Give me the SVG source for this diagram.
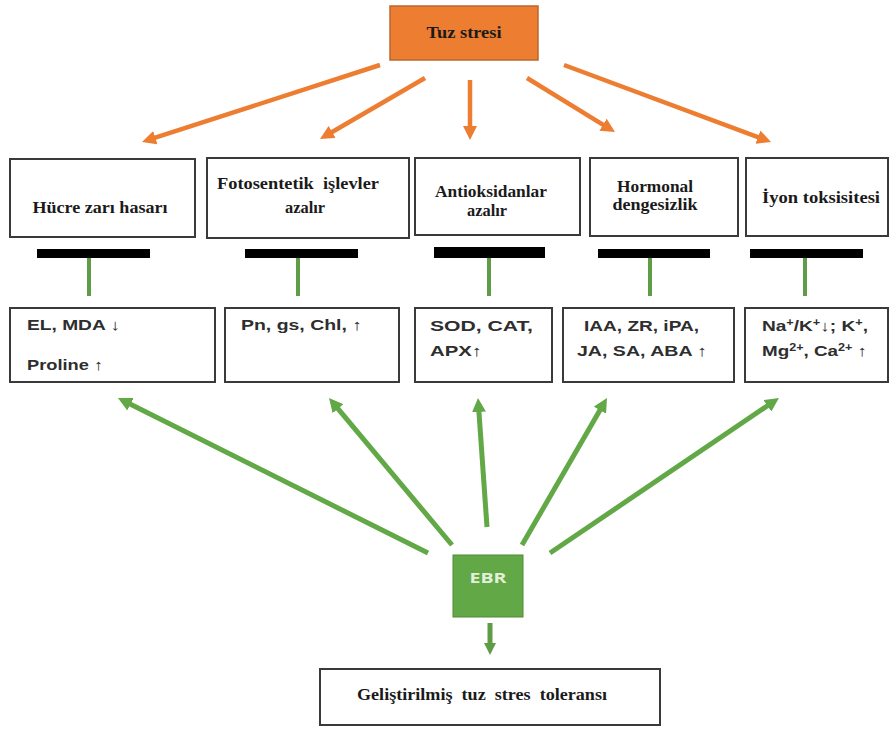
<svg xmlns="http://www.w3.org/2000/svg" width="889" height="729" viewBox="0 0 889 729">
<style>
.box{fill:#ffffff;stroke:#3a3a3a;stroke-width:2}
.ttl{font-family:"Liberation Serif","Times New Roman",serif;font-weight:bold;font-size:16px;fill:#1a1a1a;white-space:pre}
.lbl{font-family:"Liberation Sans",Arial,sans-serif;font-weight:bold;font-size:15px;fill:#2e2e2e}
.sup{font-size:10px}
.or{stroke:#ED7D31;stroke-width:4.5;fill:none}
.gr{stroke:#62A846;stroke-width:5;fill:none}
.stem{stroke:#5E9C45;stroke-width:4}
.bar{fill:#000000}
</style>
<defs>
<marker id="ao" markerUnits="userSpaceOnUse" markerWidth="14" markerHeight="14" refX="5" refY="7" orient="auto">
<path d="M0,0 L14,7 L0,14 z" fill="#ED7D31"/>
</marker>
<marker id="ag" markerUnits="userSpaceOnUse" markerWidth="14" markerHeight="14" refX="5" refY="7" orient="auto">
<path d="M0,0 L14,7 L0,14 z" fill="#62A846"/>
</marker>
<marker id="ag2" markerUnits="userSpaceOnUse" markerWidth="12" markerHeight="12" refX="4" refY="6" orient="auto">
<path d="M0,0 L12,6 L0,12 z" fill="#5E9C45"/>
</marker>
</defs>

<g id="tuz-stresi">
<rect x="390" y="6" width="148" height="54" fill="#ED7D31" stroke="#B8682E" stroke-width="1.5"/>
<text class="ttl" x="464" y="38" text-anchor="middle" font-size="17" textLength="75" lengthAdjust="spacingAndGlyphs">Tuz stresi</text>
</g>

<g id="hucre">
<rect class="box" x="10" y="159" width="185" height="78"/>
<text class="ttl" x="100" y="213" text-anchor="middle" textLength="135" lengthAdjust="spacingAndGlyphs">Hücre zarı hasarı</text>
</g>
<g id="fotosentetik">
<rect class="box" x="207" y="158" width="202" height="80"/>
<text class="ttl" x="298" y="189" text-anchor="middle" textLength="162" lengthAdjust="spacingAndGlyphs">Fotosentetik  işlevler</text>
<text class="ttl" x="305" y="213" text-anchor="middle" textLength="40" lengthAdjust="spacingAndGlyphs">azalır</text>
</g>
<g id="antioksidan">
<rect class="box" x="415" y="158" width="165" height="77"/>
<text class="ttl" x="491" y="197" text-anchor="middle" textLength="112" lengthAdjust="spacingAndGlyphs">Antioksidanlar</text>
<text class="ttl" x="487" y="216" text-anchor="middle" textLength="40" lengthAdjust="spacingAndGlyphs">azalır</text>
</g>
<g id="hormonal">
<rect class="box" x="590" y="158" width="148" height="78"/>
<text class="ttl" x="655" y="192" text-anchor="middle" textLength="76" lengthAdjust="spacingAndGlyphs">Hormonal</text>
<text class="ttl" x="655" y="210" text-anchor="middle" textLength="85" lengthAdjust="spacingAndGlyphs">dengesizlik</text>
</g>
<g id="iyon">
<rect class="box" x="746" y="158" width="142" height="78"/>
<text class="ttl" x="821" y="203" text-anchor="middle" textLength="118" lengthAdjust="spacingAndGlyphs">İyon toksisitesi</text>
</g>

<g id="inhibitors">
<rect class="bar" x="37" y="249" width="113" height="9"/>
<rect class="bar" x="245" y="249" width="113" height="9"/>
<rect class="bar" x="434" y="247" width="111" height="11"/>
<rect class="bar" x="598" y="249" width="112" height="9"/>
<rect class="bar" x="750" y="249" width="113" height="9"/>
<line class="stem" x1="89" y1="258" x2="89" y2="296"/>
<line class="stem" x1="298" y1="258" x2="298" y2="296"/>
<line class="stem" x1="489" y1="258" x2="489" y2="296"/>
<line class="stem" x1="650" y1="258" x2="650" y2="296"/>
<line class="stem" x1="805" y1="258" x2="805" y2="296"/>
</g>

<g id="b-hucre">
<rect class="box" x="10" y="308" width="205" height="74"/>
<text class="lbl" x="27" y="330" textLength="93" lengthAdjust="spacingAndGlyphs">EL, MDA ↓</text>
<text class="lbl" x="27" y="370" textLength="76" lengthAdjust="spacingAndGlyphs">Proline ↑</text>
</g>
<g id="b-foto">
<rect class="box" x="225" y="308" width="174" height="74"/>
<text class="lbl" x="241" y="330" textLength="121" lengthAdjust="spacingAndGlyphs">Pn, gs, Chl, ↑</text>
</g>
<g id="b-anti">
<rect class="box" x="415" y="308" width="137" height="74"/>
<text class="lbl" x="430" y="331" textLength="103" lengthAdjust="spacingAndGlyphs">SOD, CAT,</text>
<text class="lbl" x="430" y="356" textLength="52" lengthAdjust="spacingAndGlyphs">APX↑</text>
</g>
<g id="b-hormon">
<rect class="box" x="563" y="308" width="171" height="74"/>
<text class="lbl" x="584" y="331" textLength="115" lengthAdjust="spacingAndGlyphs">IAA, ZR, iPA,</text>
<text class="lbl" x="577" y="356" textLength="130" lengthAdjust="spacingAndGlyphs">JA, SA, ABA ↑</text>
</g>
<g id="b-iyon">
<rect class="box" x="745" y="308" width="143" height="74"/>
<text class="lbl" x="762" y="331" textLength="106" lengthAdjust="spacingAndGlyphs">Na<tspan class="sup" dy="-5">+</tspan><tspan dy="5">/K</tspan><tspan class="sup" dy="-5">+</tspan><tspan dy="5">↓; K</tspan><tspan class="sup" dy="-5">+</tspan><tspan dy="5">,</tspan></text>
<text class="lbl" x="762" y="356" textLength="105" lengthAdjust="spacingAndGlyphs">Mg<tspan class="sup" dy="-5">2+</tspan><tspan dy="5">, Ca</tspan><tspan class="sup" dy="-5">2+</tspan><tspan dy="5"> ↑</tspan></text>
</g>

<g id="ebr">
<rect x="453" y="555" width="70" height="62" fill="#62A846" stroke="#4E8A37" stroke-width="1"/>
<text x="488" y="583" text-anchor="middle" font-family="'Open Sans','Liberation Sans',sans-serif" font-weight="bold" font-size="15" fill="#E2F0DA" textLength="37" lengthAdjust="spacingAndGlyphs">EBR</text>
</g>

<g id="tolerans">
<rect class="box" x="320" y="669" width="340" height="56"/>
<text class="ttl" x="482" y="700" text-anchor="middle" textLength="250" lengthAdjust="spacingAndGlyphs">Geliştirilmiş  tuz  stres  toleransı</text>
</g>

<g id="connectors">
<line class="or" x1="380" y1="65" x2="150.6" y2="139.2" marker-end="url(#ao)"/>
<line class="or" x1="425" y1="78" x2="327.8" y2="134.5" marker-end="url(#ao)"/>
<line class="or" x1="470" y1="80" x2="470" y2="131" stroke-width="3" marker-end="url(#ao)"/>
<line class="or" x1="527" y1="78" x2="607.3" y2="127.3" marker-end="url(#ao)"/>
<line class="or" x1="564" y1="65" x2="762.6" y2="138.9" marker-end="url(#ao)"/>
<line class="gr" x1="428" y1="553" x2="126" y2="402" marker-end="url(#ag)"/>
<line class="gr" x1="452" y1="545" x2="334.8" y2="404.9" marker-end="url(#ag)"/>
<line class="gr" x1="487" y1="527" x2="478.6" y2="407" stroke-width="4" marker-end="url(#ag)"/>
<line class="gr" x1="522" y1="545" x2="602.5" y2="405.8" marker-end="url(#ag)"/>
<line class="gr" x1="550" y1="553" x2="771.5" y2="403" marker-end="url(#ag)"/>
<line x1="490" y1="623" x2="490" y2="647" stroke="#5E9C45" stroke-width="5" marker-end="url(#ag2)"/>
</g>
</svg>
